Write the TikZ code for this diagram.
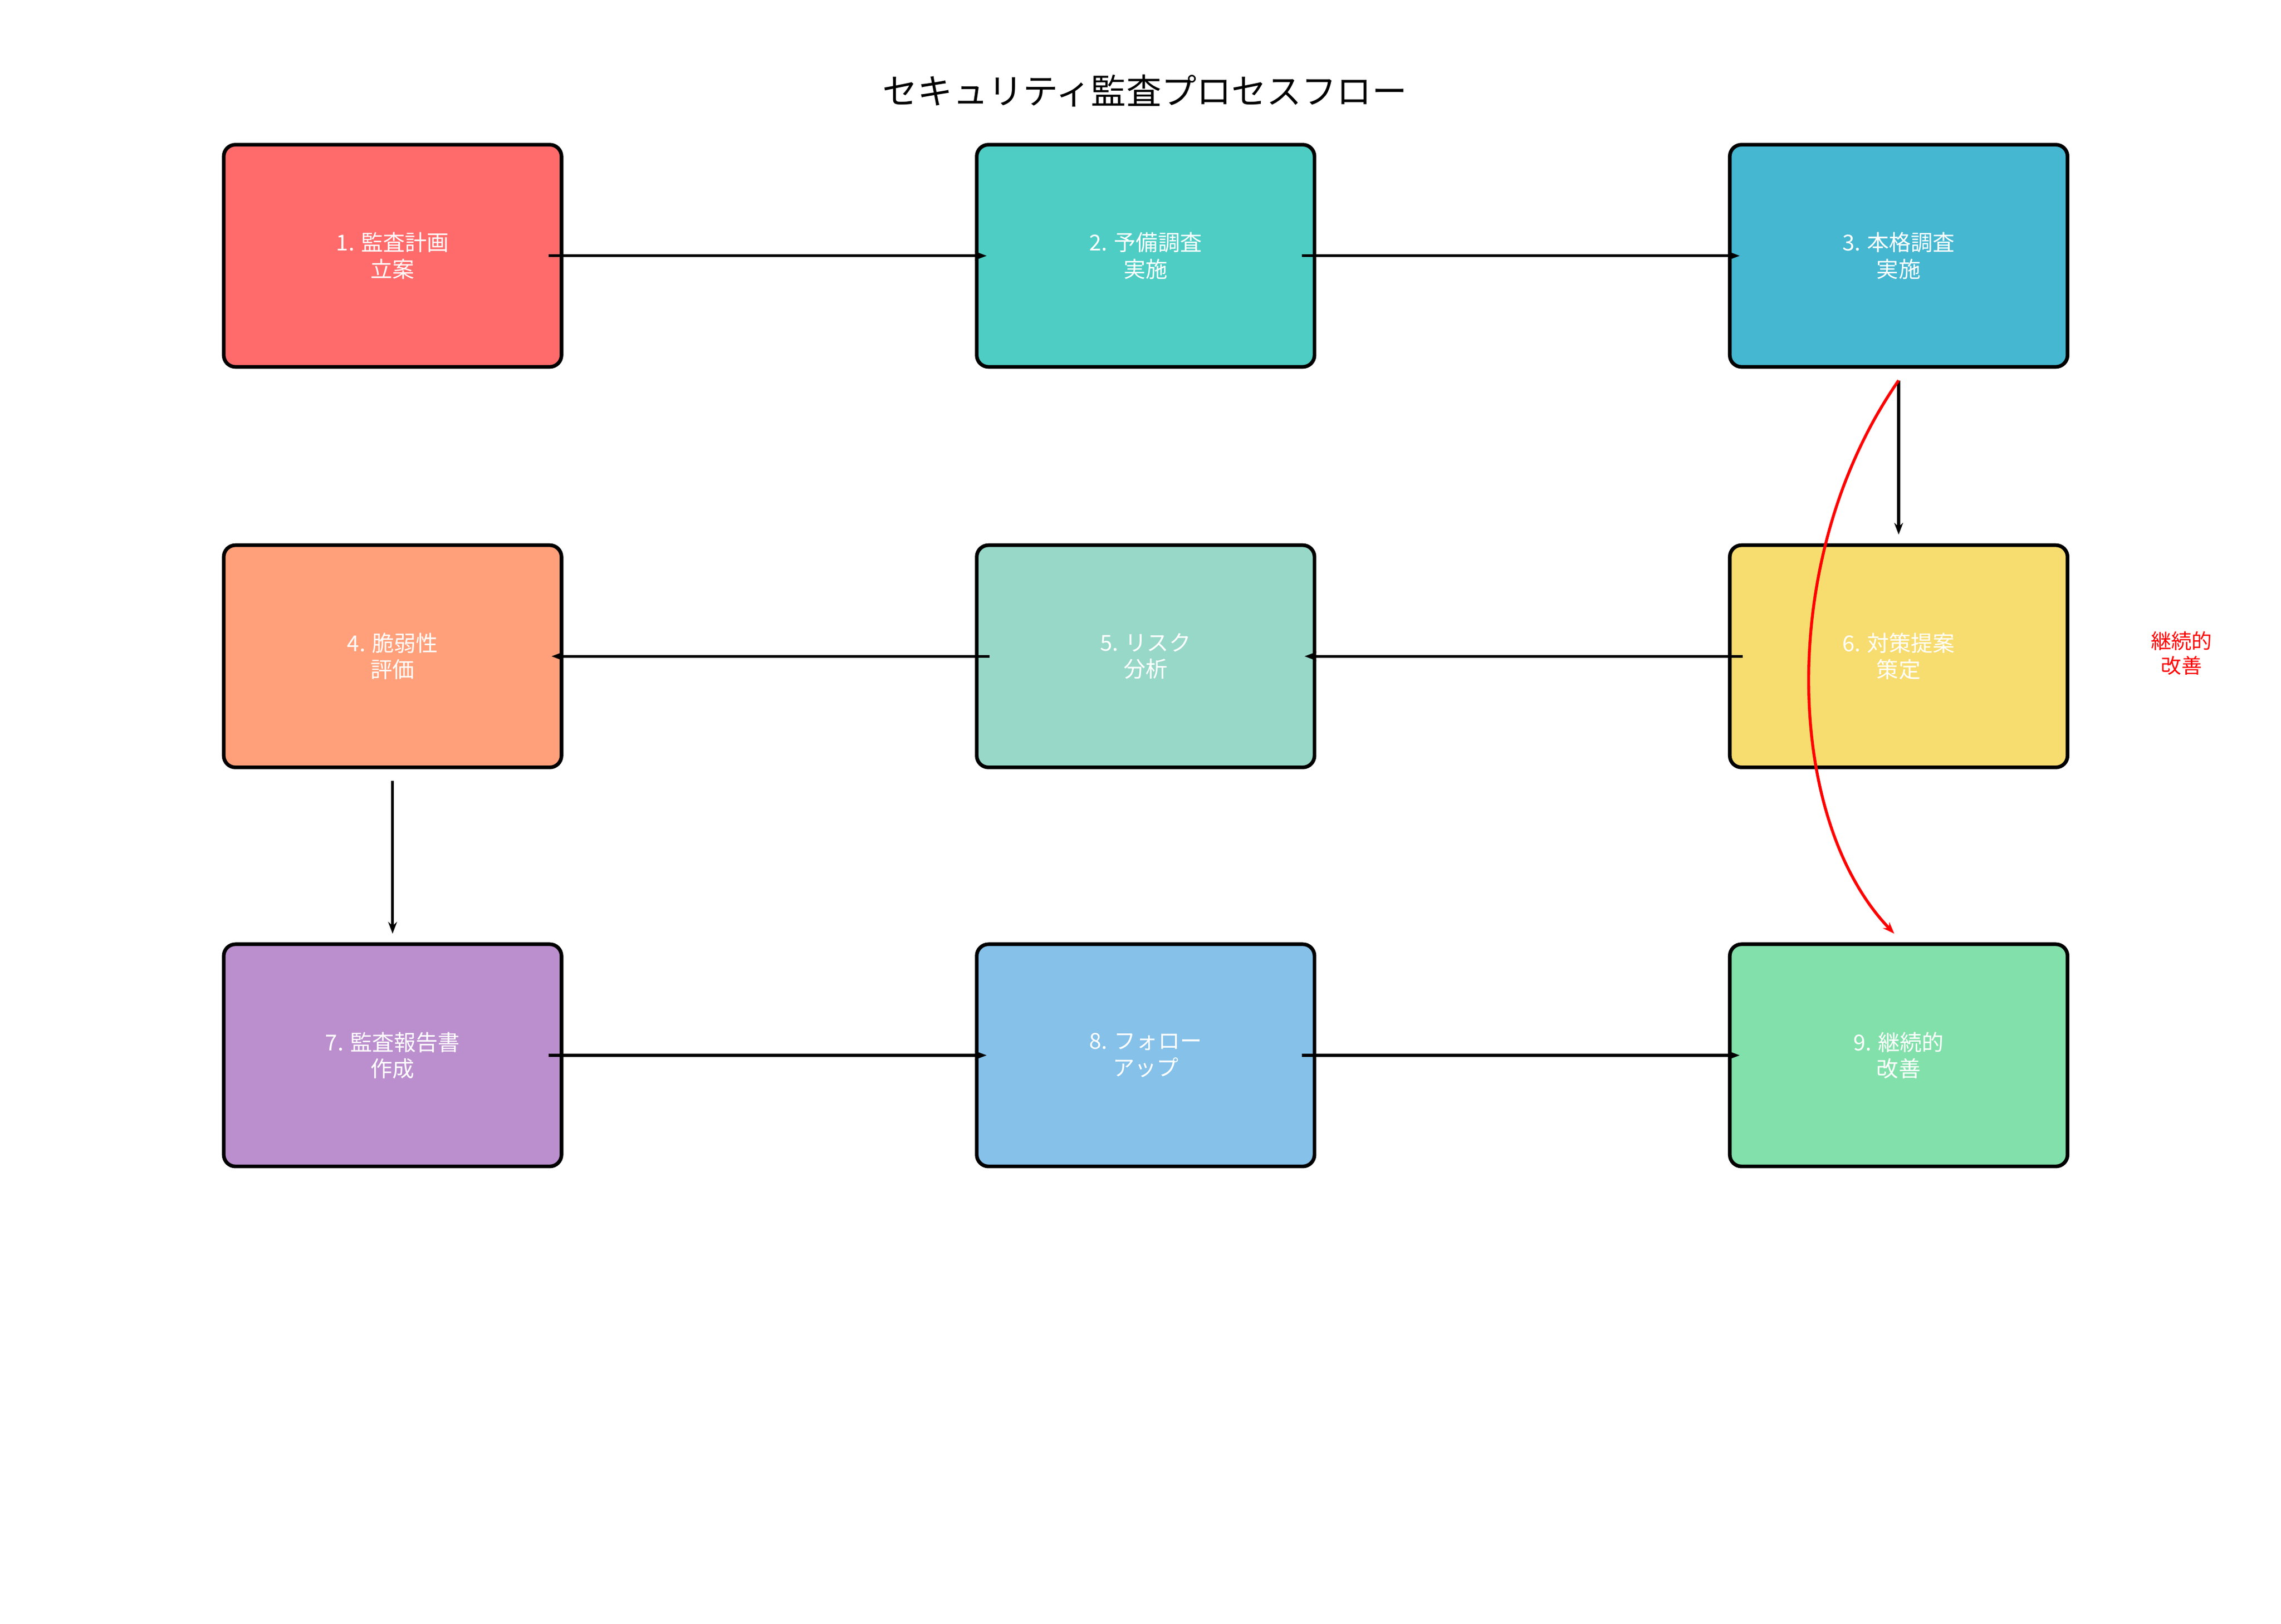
\documentclass[tikz,border=0pt]{standalone}
\usepackage{fontspec}
\setmainfont{Noto Sans CJK JP}
\usetikzlibrary{arrows.meta}
\definecolor{c1}{HTML}{FF6B6B}\definecolor{c2}{HTML}{4ECDC4}\definecolor{c3}{HTML}{45B7D1}
\definecolor{c4}{HTML}{FFA07A}\definecolor{c5}{HTML}{98D8C8}\definecolor{c6}{HTML}{F7DC6F}
\definecolor{c7}{HTML}{BB8FCE}\definecolor{c8}{HTML}{85C1E9}\definecolor{c9}{HTML}{82E0AA}
\begin{document}
\begin{tikzpicture}[x=1pt,y=-1pt,
  stepbox/.style={draw=black,line width=2.5pt,rounded corners=8pt,minimum width=231pt,minimum height=152pt,inner sep=0pt,text=white,font=\fontsize{15}{18}\selectfont,align=center},
  conn/.style={line width=2pt,-{Stealth[length=8pt,width=6pt]}}]
\useasboundingbox (0,0) rectangle (1560,1111);
\node[font=\fontsize{24}{28}\selectfont] (title) at (783,62) {セキュリティ監査プロセスフロー};
\node[stepbox,fill=c1] (n1) at (268.5,175) {1. 監査計画\\立案};
\node[stepbox,fill=c2] (n2) at (783.5,175) {2. 予備調査\\実施};
\node[stepbox,fill=c3] (n3) at (1298.5,175) {3. 本格調査\\実施};
\node[stepbox,fill=c4] (n4) at (268.5,449) {4. 脆弱性\\評価};
\node[stepbox,fill=c5] (n5) at (783.5,449) {5. リスク\\分析};
\node[stepbox,fill=c6] (n6) at (1298.5,449) {6. 対策提案\\策定};
\node[stepbox,fill=c7] (n7) at (268.5,722) {7. 監査報告書\\作成};
\node[stepbox,fill=c8] (n8) at (783.5,722) {8. フォロー\\アップ};
\node[stepbox,fill=c9] (n9) at (1298.5,722) {9. 継続的\\改善};
\node[text=red,font=\fontsize{14}{17}\selectfont,align=center] (lab) at (1492,447) {継続的\\改善};
\draw[conn] ([xshift=-10pt]n1.east) -- ([xshift=8pt]n2.west);
\draw[conn] ([xshift=-10pt]n2.east) -- ([xshift=8pt]n3.west);
\draw[conn] ([yshift=-8pt]n3.south) -- ([yshift=6pt]n6.north);
\draw[conn] ([xshift=10pt]n6.west) -- ([xshift=-8pt]n5.east);
\draw[conn] ([xshift=10pt]n5.west) -- ([xshift=-8pt]n4.east);
\draw[conn] ([yshift=-8pt]n4.south) -- ([yshift=6pt]n7.north);
\draw[conn] ([xshift=-10pt]n7.east) -- ([xshift=8pt]n8.west);
\draw[conn] ([xshift=-10pt]n8.east) -- ([xshift=8pt]n9.west);
\draw[conn,red] ([yshift=-8pt]n3.south) .. controls (1215,380) and (1220,560) .. ([xshift=-3pt,yshift=6pt]n9.north);
\end{tikzpicture}
\end{document}
